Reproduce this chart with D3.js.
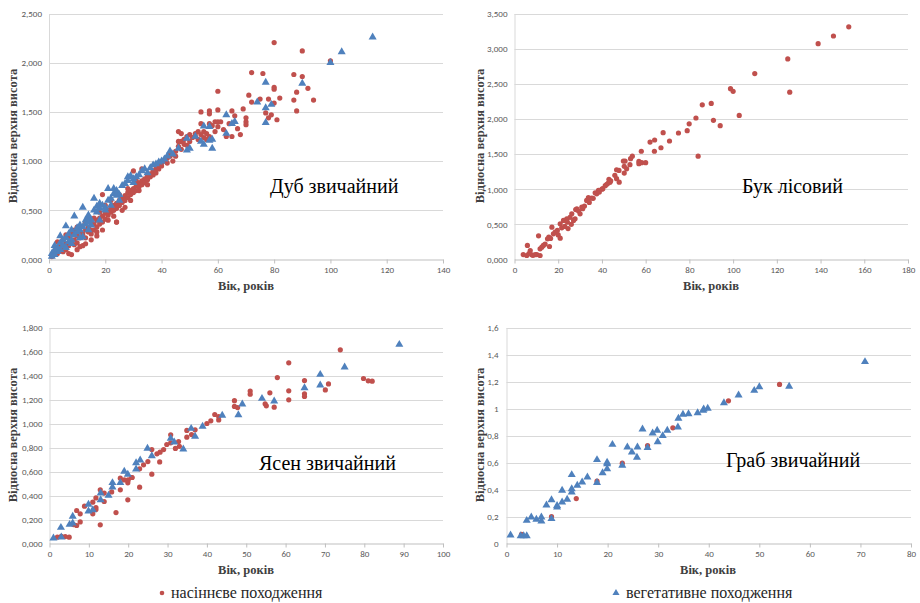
<!DOCTYPE html>
<html>
<head>
<meta charset="utf-8">
<script src="https://cdn.jsdelivr.net/npm/d3@7"></script>
<style>
  body { margin: 0; background: #ffffff; }
  .tick text { font-family: Carlito, "Liberation Sans Narrow", Lato, sans-serif; font-size: 9px; fill: #595959; }
  .serif { font-family: "Times New Roman", Times, "Liberation Serif", Tinos, "DejaVu Serif", FreeSerif, serif; }
</style>
</head>
<body>
<svg id="chart" width="920" height="603"></svg>
<script>
// ---- Дуб звичайний: [вік, відносна верхня висота]
const oakSeed = [
  [1,0.03],[2,0.05],[2,0.08],[3,0.06],[3,0.10],[3,0.18],[4,0.09],[4,0.14],[5,0.08],[5,0.12],[5,0.20],
  [6,0.10],[6,0.16],[6,0.25],[7,0.06],[7,0.14],[7,0.22],[8,0.05],[8,0.18],[8,0.27],[9,0.20],[9,0.15],
  [9,0.30],[10,0.17],[10,0.24],[10,0.33],[11,0.22],[11,0.28],[11,0.13],[12,0.26],[12,0.34],[12,0.14],
  [13,0.30],[13,0.38],[13,0.22],[14,0.33],[14,0.28],[14,0.42],[15,0.30],[15,0.37],[15,0.26],[16,0.36],
  [16,0.42],[16,0.30],[17,0.40],[17,0.33],[17,0.24],[18,0.42],[18,0.36],[18,0.48],[19,0.44],[19,0.38],
  [20,0.47],[20,0.41],[20,0.55],[19,0.66],[21,0.50],[21,0.45],[22,0.52],[22,0.48],[22,0.60],[23,0.55],
  [23,0.50],[23,0.44],[24,0.57],[24,0.52],[24,0.38],[25,0.60],[25,0.55],[25,0.66],[26,0.62],[26,0.58],
  [27,0.65],[27,0.60],[27,0.53],[28,0.68],[28,0.63],[28,0.72],[29,0.70],[29,0.66],[30,0.72],[30,0.68],
  [30,0.90],[31,0.75],[31,0.70],[31,0.80],[32,0.78],[32,0.74],[33,0.80],[33,0.76],[33,0.92],[34,0.82],
  [34,0.78],[35,0.85],[35,0.81],[36,0.87],[36,0.84],[37,0.90],[37,0.86],[38,0.92],[38,0.88],[39,0.95],
  [39,0.92],[40,0.98],[40,0.95],[41,1.00],[42,1.03],[42,0.98],[43,1.05],[43,1.08],[44,1.07],[45,1.10],
  [45,1.05],[46,1.30],[46,1.15],[47,1.12],[47,1.20],[47,1.28],[48,1.17],[48,1.22],[49,1.25],[50,1.20],
  [50,1.27],[51,1.24],[52,1.25],[52,1.28],[53,1.22],[54,1.50],[54,1.38],[54,1.27],[55,1.24],[55,1.30],
  [56,1.28],[57,1.51],[57,1.48],[57,1.38],[57,1.25],[58,1.36],[59,1.30],[59,1.40],[60,1.71],[60,1.52],
  [60,1.35],[60,1.40],[61,1.40],[62,1.32],[63,1.25],[64,1.38],[65,1.51],[65,1.25],[66,1.46],[67,1.33],
  [68,1.27],[69,1.53],[70,1.44],[70,1.40],[70,1.37],[71,1.67],[72,1.90],[72,1.60],[76,1.89],[75,1.63],
  [77,1.49],[78,1.63],[78,1.44],[79,1.47],[80,2.205],[80,1.75],[80,1.73],[80,1.59],[81,1.42],[82,1.64],
  [87,1.88],[87,1.62],[88,1.70],[88,1.51],[90,2.12],[90,1.86],[92,1.74],[94,1.62],[100,2.02],
  [24,0.38],[21,0.40],[19,0.30],[15,0.20],[10,0.10],[13,0.16],[17,0.28],[26,0.50],[29,0.60],[32,0.70],
  [35,0.76],[44,1.00],[46,1.20],[49,1.16],[53,1.30],[56,1.22]
];
const oakVeg = [
  [1,0.03],[1,0.06],[2,0.05],[2,0.10],[2,0.14],[3,0.08],[3,0.12],[4,0.10],[4,0.24],[4,0.17],[5,0.14],
  [5,0.20],[6,0.12],[6,0.34],[6,0.22],[7,0.18],[7,0.26],[8,0.20],[8,0.30],[8,0.16],[9,0.44],[9,0.25],
  [10,0.28],[10,0.32],[11,0.30],[11,0.35],[12,0.53],[12,0.33],[12,0.23],[13,0.40],[13,0.36],[14,0.42],
  [14,0.45],[15,0.40],[15,0.35],[16,0.62],[16,0.50],[17,0.54],[17,0.48],[18,0.57],[18,0.52],[19,0.55],
  [20,0.53],[20,0.50],[21,0.72],[21,0.60],[22,0.62],[23,0.72],[23,0.67],[24,0.65],[24,0.70],[25,0.66],
  [26,0.75],[27,0.77],[28,0.84],[28,0.80],[29,0.85],[30,0.78],[30,0.82],[31,0.84],[32,0.86],[33,0.90],
  [34,0.92],[35,0.88],[36,0.93],[37,0.96],[38,0.97],[39,0.99],[40,1.00],[41,1.02],[42,1.05],[43,1.10],
  [44,1.07],[46,1.13],[49,1.23],[49,1.11],[50,1.13],[52,1.25],[54,1.20],[55,1.355],[55,1.17],[57,1.35],
  [57,1.21],[58,1.22],[58,1.13],[63,1.47],[63,1.28],[65,1.38],[66,1.40],[74,1.60],[77,1.80],[77,1.54],
  [77,1.39],[79,1.575],[90,1.79],[100,2.0],[104,2.11],[115,2.26],
  [11,0.22],[14,0.30],[18,0.40],[22,0.55],[25,0.60],[14,0.38]
];

// ---- Бук лісовий (лише насіннєве походження)
const beechSeed = [
  [4,0.07],[5.6,0.057],[5.9,0.2],[6.6,0.085],[7.2,0.128],[7.9,0.066],[8.5,0.06],[9.5,0.07],[10.2,0.07],
  [11,0.337],[11.7,0.057],[11.7,0.152],[12.5,0.176],[13.2,0.2],[14,0.22],[15.1,0.294],[15.7,0.318],
  [16,0.185],[16.5,0.3],[17.1,0.46],[17.8,0.366],[18.6,0.39],[19.6,0.413],[20,0.35],[20.9,0.304],
  [20.9,0.508],[21.6,0.451],[22.4,0.556],[23,0.47],[23.9,0.58],[24.2,0.532],[24.5,0.44],[25.4,0.60],
  [26,0.5],[26.2,0.65],[27,0.556],[27.7,0.58],[28,0.71],[28.5,0.722],[29.3,0.689],[30,0.65],[30.8,0.745],
  [31.2,0.722],[32,0.76],[33,0.84],[33.8,0.879],[34.2,0.812],[35.3,0.874],[36,0.87],[36.9,0.95],
  [37.6,0.935],[38.4,0.983],[38.8,0.96],[40,1.0],[40.4,1.007],[41.5,1.05],[42.2,1.07],[42.9,1.087],
  [43.2,1.14],[43.7,1.10],[44,1.12],[45.9,1.197],[46.7,1.15],[46.7,1.277],[47.8,1.268],[47.9,1.10],
  [49.8,1.40],[50.2,1.325],[50.2,1.23],[50.6,1.40],[51.3,1.29],[52.8,1.349],[53.1,1.434],[53.9,1.47],
  [56.9,1.396],[56.9,1.363],[58,1.54],[58.2,1.377],[60,1.377],[62,1.67],[64,1.54],[64.1,1.70],[67,1.59],
  [68,1.804],[70.9,1.686],[75,1.80],[79,1.833],[79.9,1.93],[83,2.013],[84,1.47],[85.9,2.20],[90,2.22],
  [91,1.98],[94.1,1.904],[98.8,2.43],[100,2.393],[102.8,2.05],[109.9,2.645],[125,2.854],[125.9,2.38],
  [138.9,3.07],[145.9,3.18],[152.9,3.31]
];
const beechVeg = [];

// ---- Ясен звичайний
const ashSeed = [
  [73.9,1.614],[60.8,1.506],[57.9,1.383],[79.8,1.375],[81,1.356],[82,1.353],[70.9,1.33],[64.8,1.358],
  [70.1,1.28],[60.8,1.272],[56,1.256],[51,1.27],[51,1.244],[64.8,1.247],[64.8,1.225],[60.8,1.197],
  [47,1.19],[47,1.142],[47.8,1.133],[54.8,1.164],[55.1,1.147],[57.1,1.136],[42,1.075],[43,1.058],
  [43,1.03],[41,1.022],[40,1.0],[37,0.947],[34.9,0.942],[34.9,0.886],[36.1,0.908],[30.8,0.906],
  [32.8,0.85],[33,0.81],[30.8,0.839],[29.8,0.825],[32,0.792],[29,0.783],[28.1,0.761],[27.3,0.747],
  [28,0.68],[26,0.783],[26,0.578],[25,0.683],[23.9,0.656],[22.9,0.622],[22.9,0.469],[20.9,0.55],
  [19.9,0.506],[20,0.53],[18,0.544],[18,0.447],[19.9,0.364],[16.9,0.258],[15.8,0.43],[13.9,0.42],
  [12.9,0.447],[13.9,0.35],[11.8,0.38],[11.8,0.30],[11.8,0.283],[11,0.344],[11,0.247],[8.9,0.311],
  [7.8,0.247],[6.9,0.275],[7.8,0.18],[6.9,0.15],[12.9,0.156],[6.1,0.158],[5,0.053],[4,0.058],[2,0.053],
  [3,0.06],[19,0.53],[21,0.55]
];
const ashVeg = [
  [88.9,1.658],[75,1.47],[68.8,1.408],[68.8,1.32],[64.8,1.297],[54,1.208],[57.1,1.186],[49,1.161],
  [48,1.072],[43.9,1.067],[38.9,0.975],[36,0.958],[37,0.892],[30.8,0.875],[31.7,0.844],[34,0.786],
  [24.9,0.792],[26,0.73],[23.05,0.694],[22,0.672],[22,0.619],[19.9,0.575],[19,0.6],[18,0.506],
  [16,0.506],[16,0.469],[13,0.42],[13,0.364],[15,0.4],[9.9,0.325],[9.9,0.27],[11,0.28],[5.9,0.225],
  [5.9,0.169],[5.1,0.158],[2.9,0.133],[3,0.053],[1,0.044]
];

// ---- Граб звичайний
const hornbeamSeed = [
  [54,1.178],[43.9,1.057],[32.9,0.857],[27.9,0.726],[22.9,0.595],[17.9,0.462],[13.8,0.333],[8.9,0.2],
  [2.97,0.067]
];
const hornbeamVeg = [
  [70.9,1.346],[55.9,1.163],[50,1.16],[49,1.133],[45.9,1.099],[43,1.042],[39.8,1.0],[38.9,0.985],
  [37.8,0.968],[39,0.995],[36,0.96],[34.9,0.956],[34,0.926],[33.9,0.862],[31.8,0.837],[30.9,0.798],
  [29.8,0.837],[28.9,0.817],[29.9,0.753],[26.9,0.847],[25.9,0.714],[25.8,0.637],[24.8,0.677],[23.9,0.714],
  [27.9,0.709],[22.9,0.578],[20.95,0.733],[19.9,0.59],[19.9,0.553],[19.9,0.60],[19,0.523],[17.9,0.62],
  [17.9,0.45],[16,0.491],[14.96,0.454],[14,0.43],[12.9,0.509],[12.9,0.38],[12.9,0.405],[12,0.326],
  [11,0.393],[11,0.306],[10,0.28],[10,0.269],[8.9,0.323],[8.9,0.183],[7.9,0.284],[6.9,0.195],[6.9,0.165],
  [5.9,0.178],[4.9,0.195],[4,0.17],[4,0.057],[3.4,0.057],[2.8,0.057],[0.8,0.062]
];

// ---- осі
const oakXTicks = [0,20,40,60,80,100,120,140];
const oakYTicks = [0,0.5,1,1.5,2,2.5];
const beechXTicks = [0,20,40,60,80,100,120,140,160,180];
const beechYTicks = [0,0.5,1,1.5,2,2.5,3,3.5];
const ashXTicks = [0,10,20,30,40,50,60,70,80,90,100];
const ashYTicks = [0,0.2,0.4,0.6,0.8,1,1.2,1.4,1.6,1.8];
const hornbeamXTicks = [0,10,20,30,40,50,60,70,80];
const hornbeamYTicks = [0,0.2,0.4,0.6,0.8,1,1.2,1.4,1.6];

const species = ["Дуб звичайний","Бук лісовий","Ясен звичайний","Граб звичайний"];
const xTitle = "Вік, років";
const yTitle = "Відносна верхня висота";
const legendLabels = ["насіннєве походження","вегетативне походження"];

const SEED_COLOR = "#C0504D";
const VEG_COLOR = "#4F81BD";

const locale = d3.formatLocale({decimal: ",", thousands: "\u00a0", grouping: [3], currency: ["", ""]});
const fmt3 = locale.format(".3f");
const fmtShort = locale.format(".1~f");

const panels = [
  {title: species[0], seed: oakSeed, veg: oakVeg, xTicks: oakXTicks, yTicks: oakYTicks, yFmt: fmt3,
   l: 49, r: 443, t: 13.5, b: 259.5, tx: 270, ty: 193, ylx: 17, yly: 136, xlx: 246, xly: 290, pad: 7},
  {title: species[1], seed: beechSeed, veg: beechVeg, xTicks: beechXTicks, yTicks: beechYTicks, yFmt: fmt3,
   l: 514.5, r: 908, t: 13.5, b: 259.5, tx: 742, ty: 193, ylx: 484, yly: 136, xlx: 711, xly: 290, pad: 7},
  {title: species[2], seed: ashSeed, veg: ashVeg, xTicks: ashXTicks, yTicks: ashYTicks, yFmt: fmt3,
   l: 49.5, r: 443, t: 327.5, b: 543.5, tx: 259, ty: 470, ylx: 17, yly: 435, xlx: 246, xly: 574, pad: 7},
  {title: species[3], seed: hornbeamSeed, veg: hornbeamVeg, xTicks: hornbeamXTicks, yTicks: hornbeamYTicks, yFmt: fmtShort,
   l: 506.5, r: 911, t: 327.5, b: 543.5, tx: 726, ty: 467, ylx: 484, yly: 435, xlx: 708, xly: 574, pad: 8}
];

const svg = d3.select("#chart");
const tri = d3.symbol().type(d3.symbolTriangle).size(28);

panels.forEach(p => {
  const x = d3.scaleLinear().domain([0, d3.max(p.xTicks)]).range([p.l, p.r]);
  const y = d3.scaleLinear().domain([0, d3.max(p.yTicks)]).range([p.b, p.t]);
  const g = svg.append("g");

  // горизонтальна сітка
  g.append("g").selectAll("line").data(p.yTicks.filter(d => d > 0)).join("line")
    .attr("x1", p.l).attr("x2", p.r)
    .attr("y1", d => Math.round(y(d)) + 0.5).attr("y2", d => Math.round(y(d)) + 0.5)
    .attr("stroke", "#d9d9d9").attr("stroke-width", 1);

  // вісь Y
  g.append("g").attr("transform", `translate(${p.l},0)`)
    .call(d3.axisLeft(y).tickValues(p.yTicks).tickFormat(p.yFmt).tickSize(0).tickPadding(p.pad))
    .call(s => s.select(".domain").attr("stroke", "#d9d9d9"));

  // вісь X
  g.append("g").attr("transform", `translate(0,${p.b})`)
    .call(d3.axisBottom(x).tickValues(p.xTicks).tickFormat(d3.format("d")).tickSize(4).tickPadding(3).tickSizeOuter(0))
    .call(s => s.select(".domain").attr("stroke", "#bfbfbf"))
    .call(s => s.selectAll(".tick line").attr("stroke", "#bfbfbf"));

  // точки: насіннєве походження
  g.append("g").selectAll("circle").data(p.seed).join("circle")
    .attr("cx", d => x(d[0])).attr("cy", d => y(d[1])).attr("r", 2.6)
    .attr("fill", SEED_COLOR);

  // трикутники: вегетативне походження
  g.append("g").selectAll("path").data(p.veg).join("path")
    .attr("d", tri)
    .attr("transform", d => `translate(${x(d[0])},${y(d[1])})`)
    .attr("fill", VEG_COLOR);

  // підписи
  g.append("text").attr("class", "serif").attr("x", p.tx).attr("y", p.ty)
    .style("font-size", "20px").style("fill", "#000").text(p.title);
  g.append("text").attr("class", "serif").attr("x", p.xlx).attr("y", p.xly).attr("text-anchor", "middle")
    .style("font-size", "12.5px").style("font-weight", "bold").style("fill", "#404040")
    .text(xTitle);
  g.append("text").attr("class", "serif").attr("text-anchor", "middle")
    .attr("transform", `translate(${p.ylx},${p.yly}) rotate(-90)`)
    .style("font-size", "12.5px").style("font-weight", "bold").style("fill", "#404040")
    .text(yTitle);
});

// легенда
const lg = svg.append("g");
lg.append("circle").attr("cx", 162).attr("cy", 593).attr("r", 2.3).attr("fill", SEED_COLOR);
lg.append("text").attr("class", "serif").attr("x", 171).attr("y", 598)
  .style("font-size", "16px").style("fill", "#262626").text(legendLabels[0]);
lg.append("path").attr("d", d3.symbol().type(d3.symbolTriangle).size(22))
  .attr("transform", "translate(616,593)").attr("fill", VEG_COLOR);
lg.append("text").attr("class", "serif").attr("x", 626).attr("y", 598)
  .style("font-size", "16px").style("fill", "#262626").text(legendLabels[1]);
</script>
</body>
</html>
